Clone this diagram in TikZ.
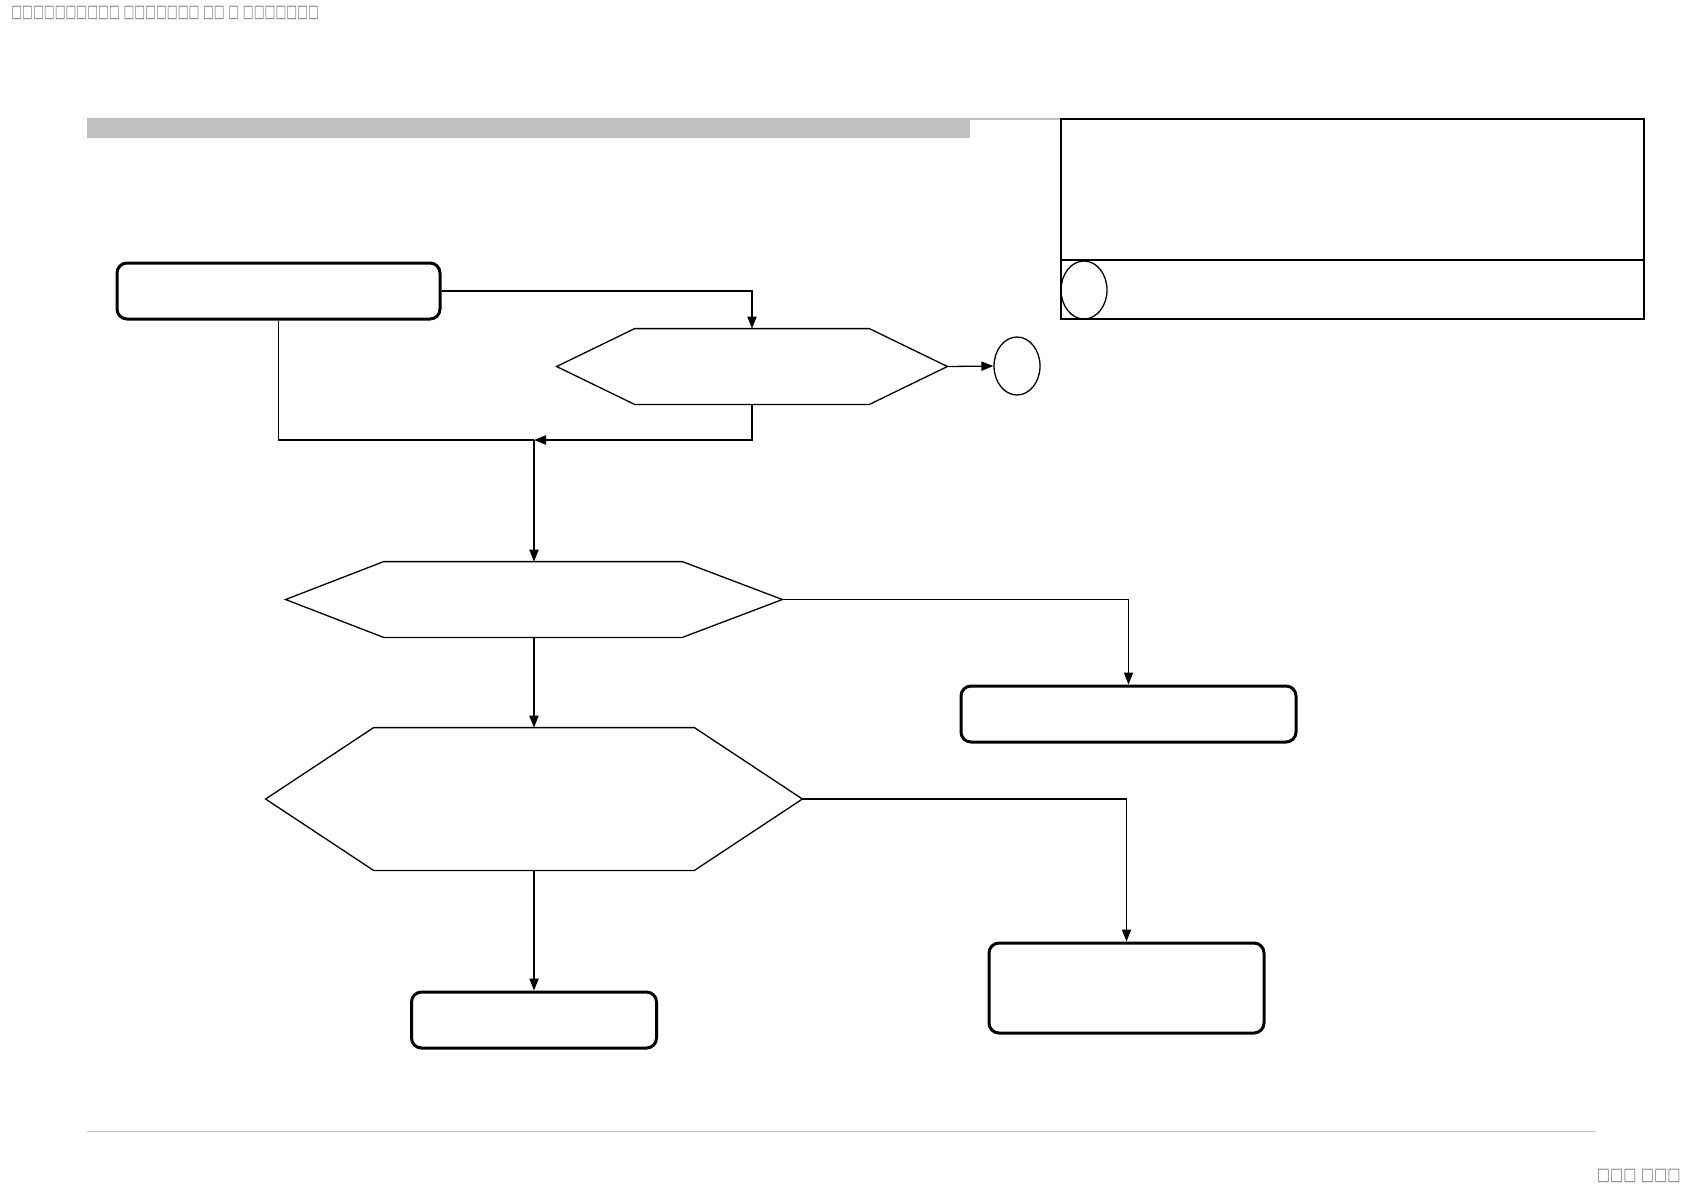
\documentclass[tikz,border=0pt]{standalone}
\usepackage{fontspec}
\newfontfamily\symfont{DejaVu Sans}
\usetikzlibrary{arrows.meta,shapes.geometric}
\definecolor{barGray}{HTML}{C0C0C0}
\definecolor{txtGray}{HTML}{808080}
\begin{document}
\begin{tikzpicture}[x=0.5pt,y=-0.5pt,
  rbox/.style={draw, line width=1.5pt, rounded corners=5pt, inner sep=0pt},
  hexbox/.style={draw=none, inner sep=0pt},
  hexline/.style={line width=0.65pt},
  oval/.style={draw, ellipse, line width=0.65pt, inner sep=0pt, minimum width=23pt, minimum height=29pt},
  conn/.style={line width=0.65pt},
  arr/.style={conn, -{Triangle[length=6pt,width=4.6pt]}},
  tofu/.style={text=txtGray, font=\symfont\fontsize{7}{8}\selectfont, inner sep=0pt}
]
\useasboundingbox (0,0) rectangle (1684,1191);

% header
\node[tofu, anchor=west] (hdr) at (11,13) {\scalebox{0.82}[1.25]{□□□□□□□□□□ □□□□□□□ □□ □ □□□□□□□}};
\fill[barGray] (87,119) rectangle (970,138);
\draw[barGray, line width=1pt] (87,119) -- (1061,119);
\draw[barGray, line width=0.5pt] (87,1131) -- (1596,1131);
\node[tofu, anchor=east] (ftr) at (1681,1176) {\scalebox{1}[1.25]{□□□ □□□}};

% legend box
\draw[line width=1pt] (1061,119) rectangle (1644,319);
\draw[line width=0.6pt] (1061,260) -- (1644,260);
\node[oval] (lc) at (1084,290) {};

% boxes
\node[rbox, minimum width=161.5pt, minimum height=28pt] (b1) at (278.5,291) {};
\node[rbox, minimum width=167.5pt, minimum height=28pt] (b2) at (1128.5,714) {};
\node[rbox, minimum width=122.5pt, minimum height=28pt] (b3) at (534,1020) {};
\node[rbox, minimum width=137.5pt, minimum height=45pt] (b4) at (1126.5,988) {};

% hexagons
\node[hexbox, minimum width=195pt, minimum height=37.5pt] (h1) at (752,366.5) {};
\draw[hexline] (h1.west) -- ([xshift=39pt]h1.north west) -- ([xshift=-39pt]h1.north east) -- (h1.east)
  -- ([xshift=-39pt]h1.south east) -- ([xshift=39pt]h1.south west) -- cycle;
\node[hexbox, minimum width=248pt, minimum height=37.5pt] (h2) at (534,599.5) {};
\draw[hexline] (h2.west) -- ([xshift=49pt]h2.north west) -- ([xshift=-50pt]h2.north east) -- (h2.east)
  -- ([xshift=-50pt]h2.south east) -- ([xshift=49pt]h2.south west) -- cycle;
\node[hexbox, minimum width=268pt, minimum height=71pt] (h3) at (534,799) {};
\draw[hexline] (h3.west) -- ([xshift=54pt]h3.north west) -- ([xshift=-54pt]h3.north east) -- (h3.east)
  -- ([xshift=-54pt]h3.south east) -- ([xshift=54pt]h3.south west) -- cycle;

\node[oval] (c1) at (1017,366) {};

% connectors
\coordinate (j) at (534,440);
\draw[arr] (b1.east) -| (h1.north);
\draw[arr] (h1.east) -- (c1.west);
\draw[conn] (b1.south) |- (j);
\draw[arr] (h1.south) |- (j);
\draw[arr] (j) -- (h2.north);
\draw[arr] (h2.east) -| (b2.north);
\draw[arr] (h2.south) -- (h3.north);
\draw[arr] (h3.east) -| (b4.north);
\draw[arr] (h3.south) -- (b3.north);
\end{tikzpicture}
\end{document}
